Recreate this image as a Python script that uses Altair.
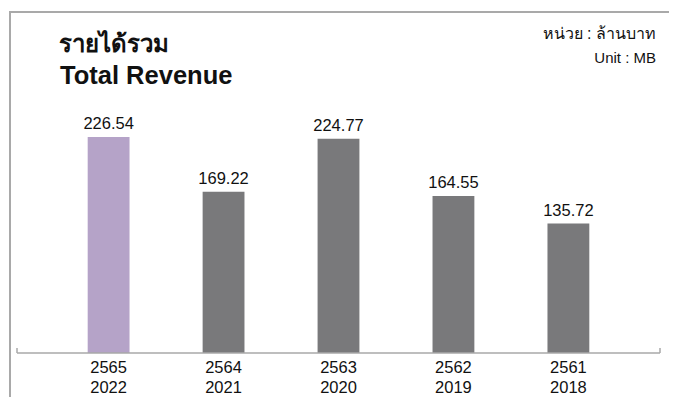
import altair as alt
import pandas as pd

thai_years = ["2565", "2564", "2563", "2562", "2561"]
ad_years = ["2022", "2021", "2020", "2019", "2018"]
revenue = [226.54, 169.22, 224.77, 164.55, 135.72]

title_th = "รายได้รวม"
title_en = "Total Revenue"
unit_th = "หน่วย : ล้านบาท"
unit_en = "Unit : MB"

df = pd.DataFrame({"thai": thai_years, "ad": ad_years, "value": revenue})

W, H = 643, 267
PURPLE = "#b5a3c8"
GRAY = "#79797b"
LINE = "#a9a9a9"
FONT = "Liberation Sans"
TFONT = "Liberation Sans Narrow, Roboto Condensed, Arial Narrow, Liberation Sans, sans-serif"

x = alt.X("thai:N", sort=thai_years, axis=None,
          scale=alt.Scale(paddingInner=0.636, paddingOuter=0.615))
y = alt.Y("value:Q", axis=None, scale=alt.Scale(domain=[0, 280]))

base = alt.Chart(df)

bars = base.mark_bar().encode(
    x=x, y=y,
    color=alt.condition(alt.datum.thai == thai_years[0], alt.value(PURPLE), alt.value(GRAY)),
)

vals = base.mark_text(baseline="bottom", dy=-5, fontSize=16.5, font=FONT, color="#111").encode(
    x=x, y=y, text=alt.Text("value:Q", format=".2f"),
)

lab1 = base.mark_text(baseline="middle", fontSize=16.5, font=FONT, color="#111").encode(
    x=x, y=alt.value(H + 15), text="thai:N",
)
lab2 = base.mark_text(baseline="alphabetic", fontSize=16.5, font=FONT, color="#111").encode(
    x=x, y=alt.value(H + 40), text="ad:N",
)

one = pd.DataFrame({"k": [0]})
o = alt.Chart(one)
baseline = o.mark_rule(color=LINE, strokeWidth=1.5).encode(
    x=alt.value(0), x2=alt.value(W), y=alt.value(H))
tickL = o.mark_rule(color=LINE, strokeWidth=1.5).encode(
    x=alt.value(0), y=alt.value(H - 5), y2=alt.value(H))
tickR = o.mark_rule(color=LINE, strokeWidth=1.5).encode(
    x=alt.value(W), y=alt.value(H - 5), y2=alt.value(H))
frameTop = o.mark_rule(color=LINE, strokeWidth=2).encode(
    x=alt.value(-8), x2=alt.value(W + 12), y=alt.value(-74))
frameLeft = o.mark_rule(color=LINE, strokeWidth=2).encode(
    x=alt.value(-7), y=alt.value(-74), y2=alt.value(H + 50))

t1 = o.mark_text(align="left", baseline="alphabetic", fontSize=24, fontWeight="bold",
                 font=TFONT, color="#111").encode(
    x=alt.value(42), y=alt.value(-34), text=alt.value(title_th))
t2 = o.mark_text(align="left", baseline="alphabetic", fontSize=25.5, fontWeight="bold",
                 font=FONT, color="#111").encode(
    x=alt.value(43), y=alt.value(-2), text=alt.value(title_en))
u1 = o.mark_text(align="right", baseline="alphabetic", fontSize=16, font=FONT, color="#111").encode(
    x=alt.value(639), y=alt.value(-47), text=alt.value(unit_th))
u2 = o.mark_text(align="right", baseline="alphabetic", fontSize=15, font=FONT, color="#111").encode(
    x=alt.value(639), y=alt.value(-23), text=alt.value(unit_en))

chart = alt.layer(
    frameTop, frameLeft, bars, vals, lab1, lab2, baseline, tickL, tickR, t1, t2, u1, u2
).properties(
    width=W, height=H,
    autosize=alt.AutoSizeParams(type="none"),
    padding={"left": 9, "top": 78, "right": 9, "bottom": 44},
).configure_view(stroke=None)

chart.save("out.html", embed_options={"renderer": "svg", "actions": False})
